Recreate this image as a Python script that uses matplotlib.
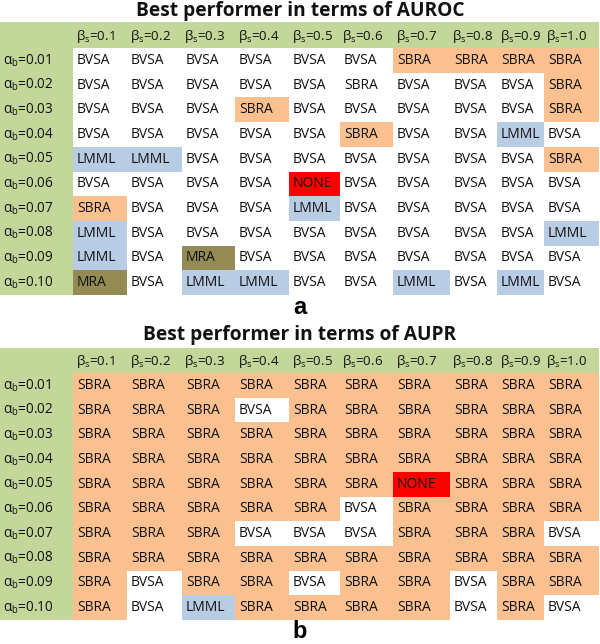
import matplotlib
matplotlib.use("Agg")
import matplotlib.pyplot as plt
from matplotlib.patches import Rectangle

plt.rcParams['font.family'] = ['Open Sans', 'DejaVu Sans']
plt.rcParams['mathtext.fontset'] = 'custom'
plt.rcParams['mathtext.rm'] = 'Open Sans'
plt.rcParams['mathtext.it'] = 'Open Sans:italic'

alpha_labels = ["0.01", "0.02", "0.03", "0.04", "0.05", "0.06", "0.07", "0.08", "0.09", "0.10"]
beta_labels = ["0.1", "0.2", "0.3", "0.4", "0.5", "0.6", "0.7", "0.8", "0.9", "1.0"]

auroc = [
    ["BVSA", "BVSA", "BVSA", "BVSA", "BVSA", "BVSA", "SBRA", "SBRA", "SBRA", "SBRA"],
    ["BVSA", "BVSA", "BVSA", "BVSA", "BVSA", "SBRA", "BVSA", "BVSA", "BVSA", "SBRA"],
    ["BVSA", "BVSA", "BVSA", "SBRA", "BVSA", "BVSA", "BVSA", "BVSA", "BVSA", "SBRA"],
    ["BVSA", "BVSA", "BVSA", "BVSA", "BVSA", "SBRA", "BVSA", "BVSA", "LMML", "BVSA"],
    ["LMML", "LMML", "BVSA", "BVSA", "BVSA", "BVSA", "BVSA", "BVSA", "BVSA", "SBRA"],
    ["BVSA", "BVSA", "BVSA", "BVSA", "NONE", "BVSA", "BVSA", "BVSA", "BVSA", "BVSA"],
    ["SBRA", "BVSA", "BVSA", "BVSA", "LMML", "BVSA", "BVSA", "BVSA", "BVSA", "BVSA"],
    ["LMML", "BVSA", "BVSA", "BVSA", "BVSA", "BVSA", "BVSA", "BVSA", "BVSA", "LMML"],
    ["LMML", "BVSA", "MRA", "BVSA", "BVSA", "BVSA", "BVSA", "BVSA", "BVSA", "BVSA"],
    ["MRA", "BVSA", "LMML", "LMML", "BVSA", "BVSA", "LMML", "BVSA", "LMML", "BVSA"],
]
# cells whose label is not highlighted in the original
auroc_unshaded = [(1, 5)]

aupr = [
    ["SBRA"] * 10,
    ["SBRA", "SBRA", "SBRA", "BVSA", "SBRA", "SBRA", "SBRA", "SBRA", "SBRA", "SBRA"],
    ["SBRA"] * 10,
    ["SBRA"] * 10,
    ["SBRA", "SBRA", "SBRA", "SBRA", "SBRA", "SBRA", "NONE", "SBRA", "SBRA", "SBRA"],
    ["SBRA", "SBRA", "SBRA", "SBRA", "SBRA", "BVSA", "SBRA", "SBRA", "SBRA", "SBRA"],
    ["SBRA", "SBRA", "SBRA", "BVSA", "BVSA", "BVSA", "SBRA", "SBRA", "SBRA", "BVSA"],
    ["SBRA"] * 10,
    ["SBRA", "BVSA", "SBRA", "SBRA", "BVSA", "SBRA", "SBRA", "BVSA", "SBRA", "SBRA"],
    ["SBRA", "BVSA", "LMML", "SBRA", "SBRA", "SBRA", "SBRA", "BVSA", "SBRA", "BVSA"],
]
aupr_unshaded = []

titles = ["Best performer in terms of AUROC", "Best performer in terms of AUPR"]
panel_letters = ["a", "b"]

colors = {"BVSA": "white", "SBRA": "#FAC090", "LMML": "#B8CCE4",
          "MRA": "#948A54", "NONE": "#FF0000"}
green = "#C4D79B"
text_color = "#111111"

# layout (pixels)
col_edges = [73, 127, 182, 235, 289, 340, 393, 450, 497, 544, 599]
row_h = 24.7
panels = [
    dict(title_y=11, head_top=22, head_bot=48, letter_y=307),
    dict(title_y=335, head_top=348, head_bot=373, letter_y=632),
]

fig = plt.figure(figsize=(6.0, 6.44), dpi=100)
ax = fig.add_axes([0, 0, 1, 1])
ax.set_xlim(0, 600)
ax.set_ylim(644, 0)
ax.axis("off")

fs = 10
fs_head = 9.6
for p, grid, unshaded, title, letter in zip(panels, [auroc, aupr],
                                            [auroc_unshaded, aupr_unshaded],
                                            titles, panel_letters):
    top = p["head_bot"]
    bottom = top + row_h * len(alpha_labels)
    # header band and left column
    ax.add_patch(Rectangle((0, p["head_top"]), col_edges[-1], p["head_bot"] - p["head_top"],
                           facecolor=green, edgecolor="none"))
    ax.add_patch(Rectangle((0, p["head_top"]), col_edges[0], bottom - p["head_top"],
                           facecolor=green, edgecolor="none"))
    ax.text(300, p["title_y"], title, ha="center", va="center", fontsize=13.8,
            fontweight="bold", color=text_color)
    for j, b in enumerate(beta_labels):
        ax.text(col_edges[j] + 2.5, (p["head_top"] + p["head_bot"]) / 2 + 1,
                r"β$_\mathrm{s}$=" + b, ha="left", va="center", fontsize=fs_head, color=text_color)
    for i, a in enumerate(alpha_labels):
        yc = top + row_h * (i + 0.5)
        ax.text(3, yc, r"α$_\mathrm{b}$=" + a, ha="left", va="center", fontsize=fs_head + 0.2,
                color=text_color)
        for j in range(len(beta_labels)):
            lab = grid[i][j]
            c = "white" if (i, j) in unshaded else colors[lab]
            x0 = col_edges[j]
            ax.add_patch(Rectangle((x0, top + row_h * i), col_edges[j + 1] - x0, row_h,
                                   facecolor=c, edgecolor="none"))
            ax.text(x0 + 4, yc, lab, ha="left", va="center", fontsize=fs, color=text_color)
    ax.text(300, p["letter_y"], letter, ha="center", va="center", fontsize=17,
            fontweight="bold", color="black", family=["Liberation Sans", "DejaVu Sans"])

fig.savefig("out.png", dpi=100)
